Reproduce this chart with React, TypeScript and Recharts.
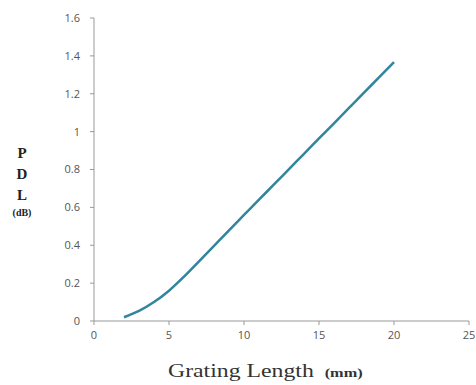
import { LineChart, Line, XAxis, YAxis } from 'recharts';

// grating length (mm) vs PDL (dB)
const lengths = [2, 3, 4, 5, 6, 7, 8, 9, 10, 11, 12, 13, 14, 15, 16, 17, 18, 19, 20];
const pdl = [0.02, 0.053, 0.1, 0.16, 0.234, 0.315, 0.397, 0.479, 0.56, 0.641, 0.721, 0.802, 0.883, 0.964, 1.044, 1.125, 1.206, 1.286, 1.367];
const xTicks = [0, 5, 10, 15, 20, 25];
const yTicks = [0, 0.2, 0.4, 0.6, 0.8, 1, 1.2, 1.4, 1.6];

const data = lengths.map((x, i) => ({ x, y: pdl[i] }));

const tickStyle = { fontSize: 11, fill: '#555', fontFamily: '"Open Sans", sans-serif' };
const serif = '"Liberation Serif", "DejaVu Serif", serif';

export default function App() {
  return (
    <div style={{ position: 'fixed', left: 0, top: 0, width: 476, height: 385, background: '#fff' }}>
      <LineChart width={476} height={385} data={data} margin={{ top: 18, right: 7, left: 0, bottom: 40 }}>
        <XAxis
          dataKey="x"
          type="number"
          domain={[0, 25]}
          ticks={xTicks}
          tick={tickStyle}
          tickSize={4}
          tickMargin={6}
          height={24}
          stroke="#999"
        />
        <YAxis
          type="number"
          domain={[0, 1.6]}
          ticks={yTicks}
          tick={tickStyle}
          tickSize={4}
          tickMargin={10}
          width={94}
          stroke="#999"
        />
        <Line
          type="monotone"
          dataKey="y"
          stroke="#31859c"
          strokeWidth={2.5}
          dot={false}
          isAnimationActive={false}
        />
      </LineChart>

      {/* stacked y axis title */}
      <div style={{ position: 'absolute', left: 10, top: 143, width: 24, textAlign: 'center', fontFamily: serif, fontWeight: 'bold', lineHeight: '21px', fontSize: 15, color: '#222' }}>
        <div>P</div>
        <div>D</div>
        <div>L</div>
        <div style={{ fontSize: 10, lineHeight: '14px' }}>(dB)</div>
      </div>

      {/* x axis title */}
      <div style={{ position: 'absolute', left: 168, top: 360, fontFamily: serif, fontSize: 19, color: '#333', whiteSpace: 'nowrap', transform: 'scaleX(1.25)', transformOrigin: 'left center' }}>
        Grating Length <span style={{ fontSize: 13, fontWeight: 'bold', marginLeft: 4 }}>(mm)</span>
      </div>
    </div>
  );
}
